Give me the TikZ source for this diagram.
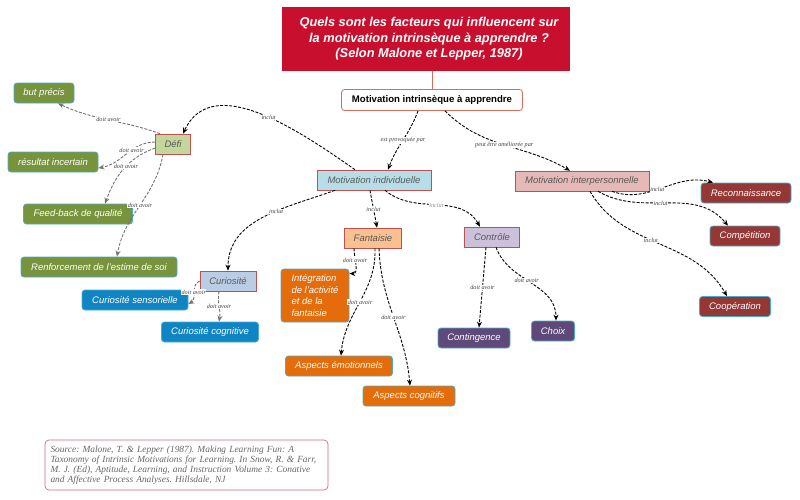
\documentclass[tikz,border=0pt]{standalone}
\usepackage{fontspec}
\setmainfont{Liberation Sans}
\newfontfamily\refserif{Liberation Serif}
\usetikzlibrary{arrows.meta}

% Colours
\definecolor{titlered}{RGB}{200,16,46}
\definecolor{miaedge}{RGB}{214,110,92}
\definecolor{boxred}{RGB}{192,80,77}
\definecolor{leafedge}{RGB}{75,172,198}
\definecolor{mifill}{RGB}{183,222,232}
\definecolor{mipfill}{RGB}{230,185,184}
\definecolor{defifill}{RGB}{195,214,155}
\definecolor{curfill}{RGB}{185,205,229}
\definecolor{fanfill}{RGB}{250,192,144}
\definecolor{ctlfill}{RGB}{204,193,218}
\definecolor{leafgreen}{RGB}{119,147,60}
\definecolor{leafblue}{RGB}{16,133,196}
\definecolor{leaforange}{RGB}{228,108,10}
\definecolor{leafpurple}{RGB}{95,73,122}
\definecolor{leafred}{RGB}{149,55,53}
\definecolor{srcedge}{RGB}{212,103,122}

\begin{document}
\frenchspacing
\begin{tikzpicture}[x=1pt, y=-1pt,
  concept/.style={draw=boxred, line width=0.6pt, inner sep=0pt, minimum height=20pt,
    font=\fontsize{9.5}{11}\selectfont\itshape, text=black!65},
  leaf/.style={draw=leafedge, line width=0.8pt, rounded corners=3pt, inner sep=0pt,
    minimum height=20pt, font=\fontsize{9.5}{11.5}\selectfont\itshape, text=white},
  lbl/.style={font=\refserif\itshape\fontsize{6.2}{7}\selectfont, text=black!75,
    fill=white, inner sep=0.5pt},
  link/.style={draw=black, line width=0.9pt, dash pattern=on 3pt off 1.5pt,
    -{Stealth[length=6pt,width=5pt]}},
  softlink/.style={link, draw=black!55},
]

\useasboundingbox (0,0) rectangle (800,499);

% ============================================================
% TITLE AND ROOT
% ============================================================
\node[fill=titlered, minimum width=288pt, minimum height=64pt, inner sep=0pt,
    font=\fontsize{12.8}{15.5}\selectfont\bfseries\itshape, text=white, align=center]
    (title) at (426,39)
    {\hspace*{6pt}Quels sont les facteurs qui influencent sur\\
     \hspace*{6pt}la motivation intrinsèque à apprendre ?\\
     \hspace*{6pt}(Selon Malone et Lepper, 1987)};

\node[draw=miaedge, line width=0.8pt, fill=white, rounded corners=3pt,
    minimum width=181pt, minimum height=21pt, inner sep=0pt,
    font=\fontsize{9.6}{11}\selectfont\bfseries]
    (mia) at (432,100) {Motivation intrinsèque à apprendre};

\draw[miaedge, line width=0.8pt] (title.south -| mia.north) -- (mia.north);

% ============================================================
% MAIN BRANCHES
% ============================================================
\node[concept, fill=mifill, minimum width=114pt] (mi) at (374,180) {Motivation individuelle};
\node[concept, fill=mipfill, minimum width=134pt] (mip) at (582,181) {Motivation interpersonnelle};

\draw[link] ([xshift=-14pt]mia.south) to[out=-110,in=70]
  node[lbl]{est provoquée par} ([xshift=14pt]mi.north);
\draw[link] ([xshift=13pt]mia.south) to[out=-45,in=150]
  node[lbl]{peut être améliorée par} ([xshift=-12pt]mip.north);

% ============================================================
% DEFI (left)
% ============================================================
\node[concept, fill=defifill, minimum width=35pt] (defi) at (173,144) {Défi};

\node[leaf, fill=leafgreen, minimum width=60pt] (but) at (44,93) {but précis};
\node[leaf, fill=leafgreen, minimum width=90pt] (incert) at (53,162) {résultat incertain};
\node[leaf, fill=leafgreen, minimum width=109pt] (feedback) at (78,214) {Feed-back de qualité};
\node[leaf, fill=leafgreen, minimum width=156pt] (estime) at (99,267) {Renforcement de l'estime de soi};

\draw[link] ([xshift=-19pt]mi.north) to[out=145,in=65]
  node[lbl, pos=0.45]{inclut} ([xshift=10pt]defi.north);

\draw[softlink] ([xshift=-13pt]defi.north) to[out=160,in=-25]
  node[lbl]{doit avoir} ([xshift=14pt]but.south);
\draw[softlink] ([yshift=2pt]defi.west) to[out=180,in=10]
  node[lbl, pos=0.4]{doit avoir} ([yshift=-6pt]incert.east);
\draw[softlink] ([yshift=-4pt]defi.west) to[out=200,in=70]
  node[lbl, pos=0.45]{doit avoir} ([xshift=27pt]feedback.north);
\draw[softlink] ([xshift=-10pt]defi.south) to[out=-100,in=80]
  node[lbl, pos=0.5]{doit avoir} ([xshift=18pt]estime.north);

% ============================================================
% CURIOSITE
% ============================================================
\node[concept, fill=curfill, minimum width=56pt] (curio) at (228,281) {Curiosité};

\node[leaf, fill=leafblue, minimum width=106pt] (sensor) at (135,300) {Curiosité sensorielle};
\node[leaf, fill=leafblue, minimum width=97pt] (cognit) at (210,332) {Curiosité cognitive};

\draw[link] ([xshift=-39pt]mi.south) to[out=200,in=90]
  node[lbl, pos=0.4]{inclut} (curio.north);

\draw[softlink] (curio.west) to[out=-160,in=30]
  node[lbl, pos=0.5]{doit avoir} ([yshift=-4pt]sensor.east);
\draw[softlink] ([xshift=-9pt]curio.south) to[out=-100,in=80]
  node[lbl]{doit avoir} ([xshift=9pt]cognit.north);

% ============================================================
% FANTAISIE
% ============================================================
\node[concept, fill=fanfill, minimum width=57pt] (fant) at (373,238) {Fantaisie};

\node[leaf, fill=leaforange, minimum width=68pt, minimum height=53pt, align=left]
  (integ) at (315,295.5) {Intégration\\de l'activité\\et de la\\fantaisie};
\node[leaf, fill=leaforange, minimum width=107pt] (emo) at (339,366) {Aspects émotionnels};
\node[leaf, fill=leaforange, minimum width=92pt] (cogt) at (409,396) {Aspects cognitifs};

\draw[link] ([xshift=-4pt]mi.south) to[out=-80,in=100]
  node[lbl]{inclut} ([xshift=4pt]fant.north);

\draw[link] ([xshift=-19pt]fant.south) to[out=-90,in=0]
  node[lbl, pos=0.35]{doit avoir} ([yshift=-5pt]integ.north east);
\draw[link] ([xshift=2pt]fant.south) to[out=-88,in=85]
  node[lbl, pos=0.5]{doit avoir} ([xshift=2pt]emo.north);
\draw[link] ([xshift=6pt]fant.south) to[out=-88,in=95]
  node[lbl, pos=0.5]{doit avoir} ([xshift=1pt]cogt.north);

% ============================================================
% CONTROLE
% ============================================================
\node[concept, fill=ctlfill, minimum width=55pt] (ctrl) at (492,237) {Contrôle};

\node[leaf, fill=leafpurple, minimum width=72pt] (conting) at (474,338) {Contingence};
\node[leaf, fill=leafpurple, minimum width=43pt] (choix) at (553,331) {Choix};

\draw[link] ([xshift=11pt]mi.south) to[out=-40,in=120]
  node[lbl, text=black!45]{inclut} ([xshift=-12pt]ctrl.north);

\draw[link] ([xshift=-6pt]ctrl.south) to[out=-95,in=85]
  node[lbl]{doit avoir} ([xshift=5pt]conting.north);
\draw[link] ([xshift=4pt]ctrl.south) to[out=-70,in=90]
  node[lbl, pos=0.45]{doit avoir} ([xshift=3pt]choix.north);

% ============================================================
% MOTIVATION INTERPERSONNELLE (right)
% ============================================================
\node[leaf, fill=leafred, minimum width=90pt] (recon) at (746,193) {Reconnaissance};
\node[leaf, fill=leafred, minimum width=70pt] (compet) at (745,236) {Compétition};
\node[leaf, fill=leafred, minimum width=71pt] (coop) at (735,306.5) {Coopération};

\draw[link] ([xshift=30pt]mip.south) to[out=-20,in=165]
  node[lbl, pos=0.45]{inclut} ([xshift=-33pt]recon.north);
\draw[link] ([xshift=16pt]mip.south) to[out=-30,in=130]
  node[lbl, pos=0.45]{inclut} ([xshift=-17pt]compet.north);
\draw[link] ([xshift=8pt]mip.south) to[out=-60,in=120]
  node[lbl, pos=0.45]{inclut} ([xshift=-8pt]coop.north);

% ============================================================
% SOURCE
% ============================================================
\node[draw=srcedge, line width=0.7pt, rounded corners=4pt, fill=white,
    minimum width=283pt, minimum height=50pt, inner sep=0pt,
    text width=272pt, align=left,
    font=\refserif\itshape\fontsize{9.4}{10}\selectfont, text=black!60]
    (source) at (186.5,465)
    {Source: Malone, T. \& Lepper (1987). Making Learning Fun: A\\
     Taxonomy of Intrinsic Motivations for Learning. In Snow, R. \& Farr,\\
     M. J. (Ed), Aptitude, Learning, and Instruction Volume 3: Conative\\
     and Affective Process Analyses. Hillsdale, NJ};

\end{tikzpicture}
\end{document}
